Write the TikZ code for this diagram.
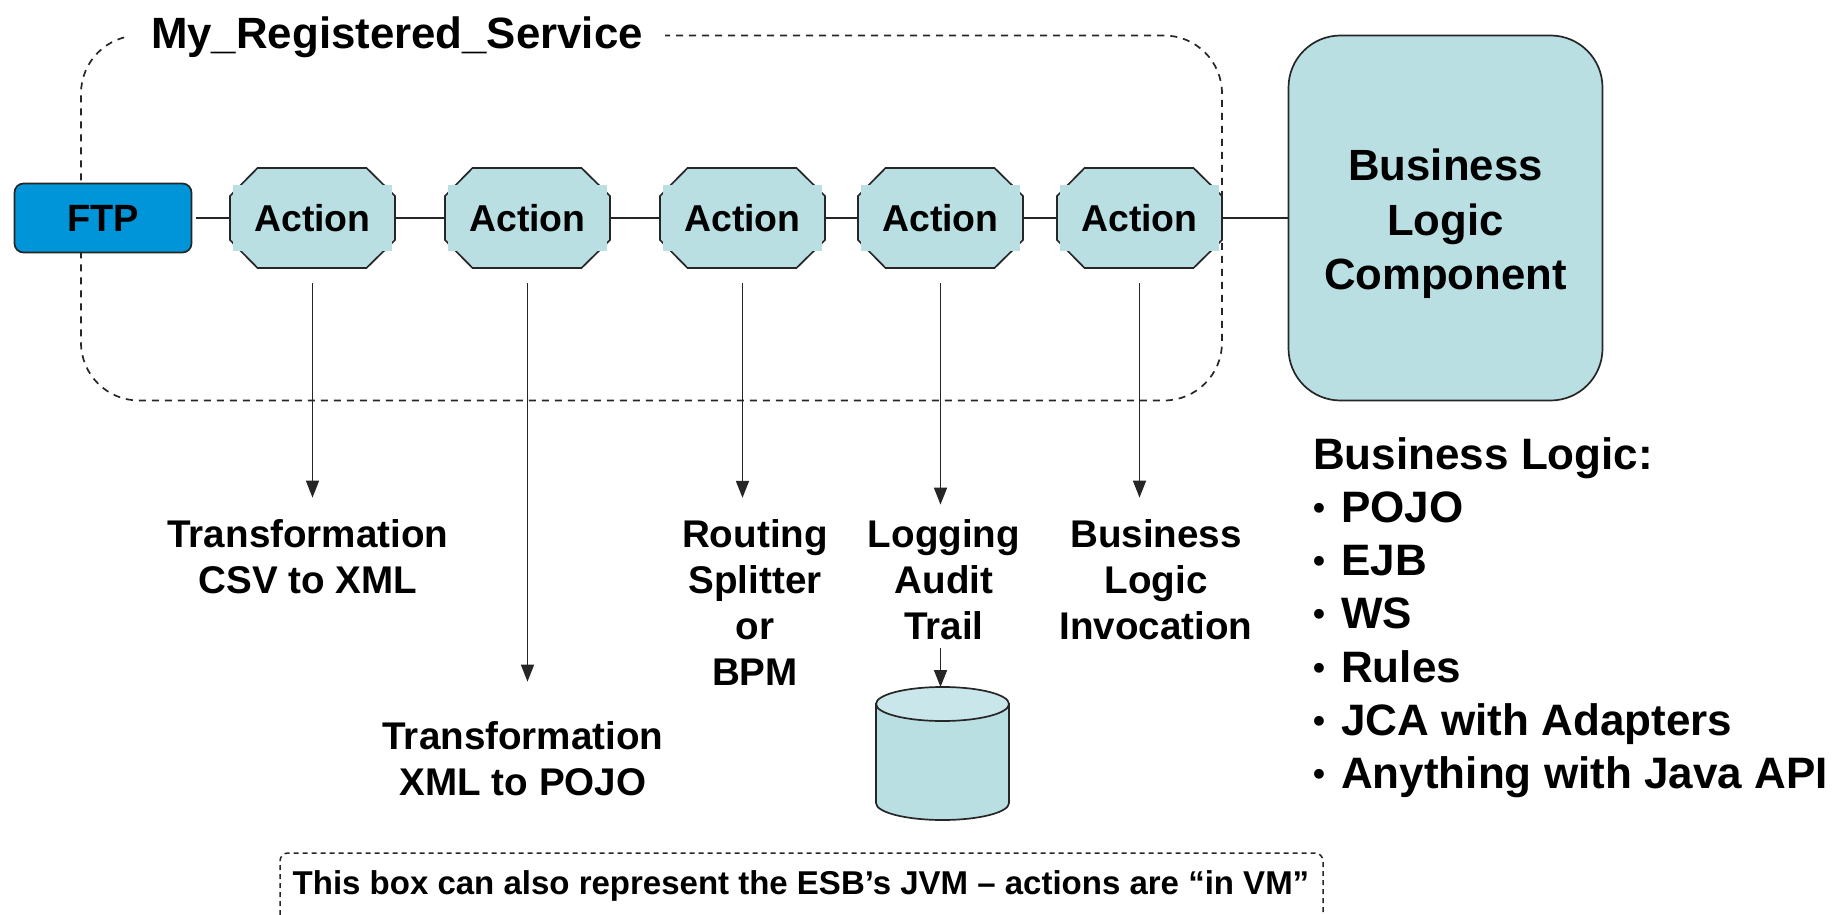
\documentclass[tikz,border=0pt]{standalone}
\usepackage{fontspec}
\setmainfont{Liberation Sans}
\usetikzlibrary{arrows.meta}
\definecolor{teal1}{HTML}{B9DFE3}
\definecolor{teal2}{HTML}{C9E7EA}
\definecolor{ftpblue}{HTML}{0094D8}
\newcommand{\bul}{\makebox[28pt][l]{\raisebox{3pt}{\fontsize{34}{34}\selectfont •}}}
\tikzset{
  ln/.style={draw=black!85,line width=1.7pt},
  dashbox/.style={ln,dash pattern=on 7pt off 6pt},
  link/.style={draw=black!85,line width=1.7pt},
  down/.style={draw=black!85,line width=1.7pt,-{Triangle[length=17pt,width=13pt]},shorten <=15pt},
  lab/.style={font=\fontsize{38.6}{46}\selectfont\bfseries,align=center,inner sep=0pt},
  actionbox/.style={inner sep=0pt,minimum width=165pt,minimum height=100pt,font=\fontsize{37.4}{44}\selectfont\bfseries},
}
\newcommand{\actionoct}[2]{%
  \begin{scope}[shift={(#1,218)}]
    \path[ln,fill=teal1] (-55,-50)--(54,-50)--(82.5,-22)--(82.5,22)--(54,50)--(-55,50)--(-82.5,22)--(-82.5,-22)--cycle;
    \fill[teal1] (-80,-33) rectangle (79,33);
  \end{scope}
  \node[actionbox] (#2) at (#1,218) {Action};
}
\begin{document}
\begin{tikzpicture}[x=1pt,y=-1pt]
\useasboundingbox (0,0) rectangle (1842,915);
\clip (0,0) rectangle (1842,915);
\node[dashbox,rounded corners=58pt,minimum width=1141pt,minimum height=365pt,inner sep=0pt] (service) at (651.5,218) {};
\node[fill=white,inner xsep=22pt,inner ysep=2pt,font=\fontsize{43.8}{50}\selectfont\bfseries] (title) at (397,37) {My\_Registered\_Service};
\node[ln,fill=ftpblue,rounded corners=9pt,minimum width=177pt,minimum height=69pt,inner sep=0pt,font=\fontsize{38}{44}\selectfont\bfseries] (ftp) at (103,218) {FTP};
\actionoct{312.5}{a1}
\actionoct{527.5}{a2}
\actionoct{742.5}{a3}
\actionoct{940.5}{a4}
\actionoct{1139.5}{a5}
\node[ln,fill=teal1,rounded corners=52pt,minimum width=314pt,minimum height=365pt,inner sep=0pt,font=\fontsize{43.7}{54.5}\selectfont\bfseries,align=center] (blc) at (1445.5,218) {\rule{0pt}{44pt}Business\\Logic\\Component};
\draw[link,shorten <=4pt] (ftp.east) -- (a1.west);
\draw[link] (a1.east) -- (a2.west);
\draw[link] (a2.east) -- (a3.west);
\draw[link] (a3.east) -- (a4.west);
\draw[link] (a4.east) -- (a5.west);
\draw[link] (a5.east) -- (a5.east -| blc.west);
\node[lab] (l1) at (308,557) {Transformation\\CSV to XML};
\node[lab] (l2) at (523,759) {Transformation\\XML to POJO};
\node[lab] (l3) at (755,603) {Routing\\Splitter\\or\\BPM};
\node[lab] (l4) at (944,580) {Logging\\Audit\\Trail};
\node[lab] (l5) at (1156,580) {Business\\Logic\\Invocation};
\draw[down,shorten >=22pt] (a1.south) -- (a1.south |- l1.north);
\draw[down,shorten >=40pt] (a2.south) -- (a2.south |- l2.north);
\draw[down,shorten >=22pt] (a3.south) -- (a3.south |- l3.north);
\draw[down,shorten >=15pt] (a4.south) -- (a4.south |- l4.north);
\draw[down,shorten >=22pt] (a5.south) -- (a5.south |- l5.north);
\draw[ln,fill=teal1] (876,704) -- (876,803) arc[start angle=180,end angle=360,x radius=66.5pt,y radius=17pt] -- (1009,704) -- cycle;
\draw[ln,fill=teal2] (942.5,704) ellipse[x radius=66.5pt,y radius=17pt];
\coordinate (dbtop) at (940.5,687);
\draw[down,shorten <=8pt] (l4.south -| dbtop) -- (dbtop);
\node[inner sep=0pt,align=left,anchor=north west,font=\fontsize{44}{53.3}\selectfont\bfseries] (biz) at (1313,437) {Business Logic:\\
\bul POJO\\
\bul EJB\\
\bul WS\\
\bul Rules\\
\bul JCA with Adapters\\
\bul Anything with Java API};
\node[inner sep=0pt,font=\fontsize{33}{38}\selectfont\bfseries] (note) at (801,886) {This box can also represent the ESB’s JVM – actions are “in VM”};
\draw[draw=black!85,line width=1.5pt,dash pattern=on 5pt off 4pt,rounded corners=8pt] (280,915) -- (280,853) -- (1323,853) -- (1323,915);
\end{tikzpicture}
\end{document}
